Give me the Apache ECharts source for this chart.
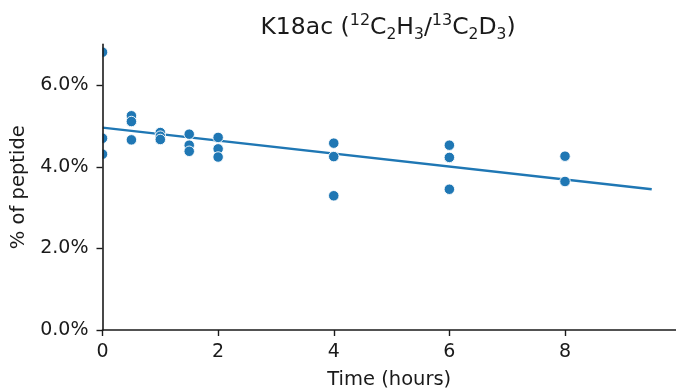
<!DOCTYPE html>
<html>
<head>
<meta charset="utf-8">
<script src="https://cdn.jsdelivr.net/npm/echarts@6/dist/echarts.min.js"></script>
<style>
  html, body { margin: 0; padding: 0; background: #fff; }
  #chart { width: 676px; height: 390px; }
</style>
</head>
<body>
<div id="chart"></div>
<script>
// measured time points (hours) and % of peptide
const pointTimes = [0, 0, 0, 0.5, 0.5, 0.5, 1, 1, 1, 1.5, 1.5, 1.5, 2, 2, 2, 4, 4, 4, 6, 6, 6, 8, 8]
const pointValues = [6.81, 4.70, 4.31, 5.25, 5.11, 4.66, 4.84, 4.75, 4.67, 4.80, 4.53, 4.38,
  4.72, 4.44, 4.24, 4.58, 4.25, 3.29, 4.53, 4.23, 3.45, 4.26, 3.64]

// fitted trend line endpoints
const fitTimes = [0, 9.5]
const fitValues = [4.96, 3.45]

const xTicks = [0, 2, 4, 6, 8]
const yTicks = [0, 2, 4, 6]

const blue = '#1f77b4'
const font = 'DejaVu Sans'
const ink = '#1a1a1a'

const chart = echarts.init(document.getElementById('chart'))

const option = {
  animation: false,
  backgroundColor: '#fff',
  textStyle: { fontFamily: font },
  title: {
    // K18ac (12C2H3/13C2D3) with super/subscripts
    text: '{m|K18ac (}{sup|12}{m|C}{sub|2}{m|H}{sub|3}{m|/}{sup|13}{m|C}{sub|2}{m|D}{sub|3}{m|)}',
    left: 388,
    top: 13,
    padding: 0,
    textAlign: 'center',
    textStyle: {
      fontWeight: 'normal',
      rich: {
        m: { fontFamily: font, fontSize: 23.5, fontWeight: 'normal', lineHeight: 30, color: ink },
        sup: { fontFamily: font, fontSize: 16, fontWeight: 'normal', lineHeight: 22.5, verticalAlign: 'top', color: ink },
        sub: { fontFamily: font, fontSize: 15.5, fontWeight: 'normal', lineHeight: 14.5, verticalAlign: 'bottom', color: ink }
      }
    }
  },
  grid: { left: 102.5, right: 0, top: 44.4, bottom: 60, outerBoundsMode: 'none' },
  graphic: [
    // hides the left half of points sitting on x = 0, like the clipped axes box
    { type: 'rect', shape: { x: 94, y: 40, width: 8.5, height: 290 }, style: { fill: '#fff' }, z: 5 }
  ],
  xAxis: {
    type: 'value',
    min: 0,
    max: 9.92,
    z: 10,
    name: 'Time (hours)',
    nameLocation: 'middle',
    nameGap: 40,
    nameTextStyle: { fontFamily: font, fontSize: 19.5, color: ink },
    splitLine: { show: false },
    axisLine: { lineStyle: { color: ink, width: 1.6 } },
    axisTick: { customValues: xTicks, length: 6, lineStyle: { color: ink, width: 1.4 } },
    axisLabel: { customValues: xTicks, fontFamily: font, fontSize: 19, color: ink, margin: 13 }
  },
  yAxis: {
    type: 'value',
    min: 0,
    max: 7,
    z: 10,
    name: '% of peptide',
    nameLocation: 'middle',
    nameGap: 73,
    nameTextStyle: { fontFamily: font, fontSize: 19.5, color: ink },
    splitLine: { show: false },
    axisLine: { show: true, lineStyle: { color: ink, width: 1.6 } },
    axisTick: { show: true, customValues: yTicks, length: 6, lineStyle: { color: ink, width: 1.4 } },
    axisLabel: {
      customValues: yTicks,
      fontFamily: font, fontSize: 19, color: ink, margin: 14,
      formatter: v => v.toFixed(1) + '%'
    }
  },
  series: [
    {
      type: 'line',
      data: fitTimes.map((t, i) => [t, fitValues[i]]),
      showSymbol: false,
      lineStyle: { color: blue, width: 2.4 },
      z: 2
    },
    {
      type: 'scatter',
      data: pointTimes.map((t, i) => [t, pointValues[i]]),
      symbolSize: 10.5,
      itemStyle: { color: blue, borderColor: '#fff', borderWidth: 0.9, opacity: 1 },
      z: 3
    }
  ]
}

chart.setOption(option)
</script>
</body>
</html>
